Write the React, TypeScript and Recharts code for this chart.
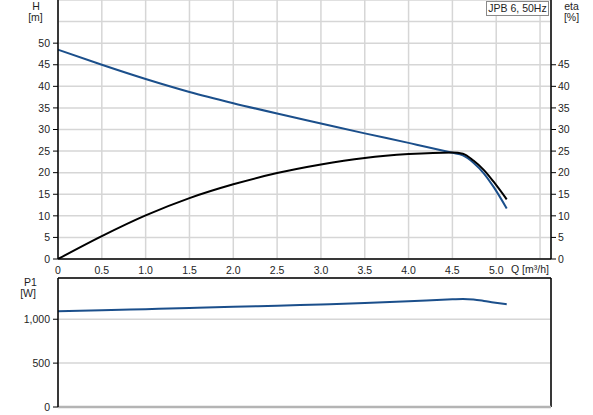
import React from "react";
import { ComposedChart, Line, XAxis, YAxis, CartesianGrid, ReferenceLine } from "recharts";

// Flow rate Q [m³/h]
const Q = [0, 0.5, 1.0, 1.5, 2.0, 2.5, 3.0, 3.5, 4.0, 4.5, 4.62, 4.74, 4.86, 4.97, 5.12];
// Head H [m]
const H = [48.5, 45.0, 41.7, 38.7, 36.1, 33.7, 31.4, 29.1, 26.9, 24.6, 24.0, 22.3, 19.8, 16.7, 11.7];
// Efficiency eta [%]
const ETA = [0, 5.3, 10.1, 14.1, 17.3, 19.9, 21.9, 23.4, 24.3, 24.7, 24.4, 22.8, 20.6, 17.9, 13.8];
// Power input P1 [W]
const P1 = [1091, 1103, 1115, 1128, 1141, 1155, 1169, 1185, 1205, 1227, 1231, 1225, 1209, 1192, 1171];

const Q_TICKS = [0, 0.5, 1.0, 1.5, 2.0, 2.5, 3.0, 3.5, 4.0, 4.5, 5.0, 5.5];
const H_TICKS = [0, 5, 10, 15, 20, 25, 30, 35, 40, 45, 50, 55, 60];
const ETA_TICKS = [0, 5, 10, 15, 20, 25, 30, 35, 40, 45];
const P1_TICKS = [0, 500, 1000];
const Q_DOMAIN = [0, 5.625];
const H_DOMAIN = [0, 60];
const P1_DOMAIN = [0, 1470];
const H_LABEL_MAX = 50;
const Q_LABEL_MAX = 5.0;

const rows = Q.map((q, i) => ({ q, h: H[i], eta: ETA[i], p1: P1[i] }));

const FONT = "'Liberation Sans', Arial, sans-serif";
const FS = 10.5;
const TXT = "#1e1e1e";
const BLUE = "#1b4f8b";
const GRID = "#d6d6d6";

const fmtQ = (v: number) => (v > Q_LABEL_MAX + 1e-9 ? "" : v === 0 ? "0" : v.toFixed(1));
const fmtP = (v: number) => v.toLocaleString("en-US");

const LeftTick = (props: any) => {
  const { x, y, payload } = props;
  if (payload.value > H_LABEL_MAX) return <g />;
  return (
    <g>
      <line x1={x + 3} x2={x + 8} y1={y} y2={y} stroke="#000" strokeWidth={1} />
      <text x={x} y={y} dy="0.35em" textAnchor="end" fontSize={FS} fontFamily={FONT} fill={TXT}>
        {payload.value}
      </text>
    </g>
  );
};

export default function App() {
  return (
    <div style={{ position: "absolute", left: 0, top: 0, width: 593, height: 415, background: "#fff", fontFamily: FONT }}>
      <div style={{ position: "absolute", left: 0, top: 0 }}>
        <ComposedChart width={593} height={280} data={rows} margin={{ top: 0, right: 0, bottom: 0, left: 0 }}>
          <CartesianGrid yAxisId="left" stroke={GRID} strokeWidth={1.5} />
          <XAxis
            dataKey="q"
            type="number"
            domain={Q_DOMAIN}
            ticks={Q_TICKS}
            interval={0}
            tickFormatter={fmtQ}
            height={21}
            tickLine={false}
            tickSize={0}
            tickMargin={8}
            axisLine={{ stroke: "#000", strokeWidth: 1.5 }}
            tick={{ fontSize: FS, fontFamily: FONT, fill: TXT }}
            allowDataOverflow
          />
          <YAxis
            yAxisId="left"
            type="number"
            domain={H_DOMAIN}
            ticks={H_TICKS}
            interval={0}
            width={58}
            tickLine={false}
            tickSize={5}
            tickMargin={3}
            tick={<LeftTick />}
            axisLine={{ stroke: "#000", strokeWidth: 1.5 }}
            allowDataOverflow
          />
          <YAxis
            yAxisId="right"
            orientation="right"
            type="number"
            domain={H_DOMAIN}
            ticks={ETA_TICKS}
            interval={0}
            width={42}
            tickSize={5}
            tickMargin={2}
            tickLine={{ stroke: "#000" }}
            axisLine={{ stroke: "#000", strokeWidth: 1.5 }}
            tick={{ fontSize: FS, fontFamily: FONT, fill: TXT, textAnchor: "start" }}
            allowDataOverflow
          />
          <Line yAxisId="left" type="monotone" dataKey="h" stroke={BLUE} strokeWidth={2} dot={false} isAnimationActive={false} />
          <Line yAxisId="right" type="monotone" dataKey="eta" stroke="#000" strokeWidth={2} dot={false} isAnimationActive={false} />
        </ComposedChart>
      </div>
      <div style={{ position: "absolute", left: 0, top: 272 }}>
        <ComposedChart width={593} height={143} data={rows} margin={{ top: 6, right: 42, bottom: 0, left: 0 }}>
          <CartesianGrid stroke={GRID} strokeWidth={1.5} />
          <XAxis
            dataKey="q"
            type="number"
            domain={Q_DOMAIN}
            ticks={Q_TICKS}
            interval={0}
            height={8}
            tick={false}
            tickLine={false}
            axisLine={{ stroke: "#b4b4b4", strokeWidth: 2.5 }}
            allowDataOverflow
          />
          <YAxis
            type="number"
            domain={P1_DOMAIN}
            ticks={P1_TICKS}
            interval={0}
            width={58}
            tickSize={5}
            tickMargin={3}
            tickFormatter={fmtP}
            tickLine={{ stroke: "#000" }}
            axisLine={{ stroke: "#000", strokeWidth: 1.5 }}
            tick={{ fontSize: FS, fontFamily: FONT, fill: TXT }}
            allowDataOverflow
          />
          <ReferenceLine y={P1_DOMAIN[1]} stroke="#000" strokeWidth={1.5} />
          <ReferenceLine x={Q_DOMAIN[1]} stroke="#000" strokeWidth={1.5} />
          <Line type="monotone" dataKey="p1" stroke={BLUE} strokeWidth={2} dot={false} isAnimationActive={false} />
        </ComposedChart>
      </div>
      <svg
        width={593}
        height={415}
        style={{ position: "absolute", left: 0, top: 0, pointerEvents: "none" }}
        fontFamily={FONT}
        fontSize={FS}
        fill={TXT}
      >
        <text x={36} y={9.5} textAnchor="middle">H</text>
        <text x={35.5} y={21} textAnchor="middle">[m]</text>
        <text x={571.5} y={9.5} textAnchor="middle">eta</text>
        <text x={571.5} y={21} textAnchor="middle">[%]</text>
        <text x={30.5} y={285.5} textAnchor="middle">P1</text>
        <text x={28} y={296.5} textAnchor="middle">[W]</text>
        <text x={511} y={272.5} textAnchor="start">Q [m³/h]</text>
        <rect x={486.5} y={1.5} width={62} height={14} fill="#fff" stroke="#8a8a8a" strokeWidth={1} />
        <text x={517.5} y={12} textAnchor="middle">JPB 6, 50Hz</text>
      </svg>
    </div>
  );
}
